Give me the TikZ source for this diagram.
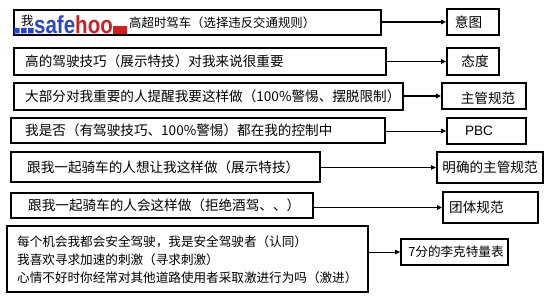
\documentclass[tikz,border=0pt]{standalone}
\usepackage{fontspec}
\setmainfont{Noto Sans CJK SC}
\newfontfamily\wmfont{Liberation Sans}
\usetikzlibrary{arrows.meta}
\definecolor{wmblue}{RGB}{40,70,200}
\definecolor{wmred}{RGB}{210,30,30}
\begin{document}
\begin{tikzpicture}[x=1pt,y=-1pt,
  box/.style={draw,line width=1.8pt,inner sep=0pt},
  txt/.style={inner sep=0pt,font=\fontsize{13.6}{16}\selectfont},
  stxt/.style={inner sep=0pt,font=\fontsize{12.6}{18}\selectfont},
  conn/.style={line width=1.3pt,-{Triangle[length=5pt,width=4.5pt]}},
  thinconn/.style={line width=0.9pt,-{Triangle[length=5pt,width=4.5pt]}}]
\useasboundingbox[fill=white] (0,0) rectangle (553,302);
% left boxes
\node[box,minimum width=367pt,minimum height=25pt] (l1) at (197.5,22.5) {};
\node[box,minimum width=372pt,minimum height=27pt] (l2) at (200,61.5) {};
\node[box,minimum width=389pt,minimum height=27pt] (l3) at (208.5,96.5) {};
\node[box,minimum width=374pt,minimum height=25pt] (l4) at (198,130.5) {};
\node[box,minimum width=309pt,minimum height=30pt] (l5) at (165.5,167) {};
\node[box,minimum width=302pt,minimum height=25pt] (l6) at (162,205.5) {};
\node[box,minimum width=361pt,minimum height=66pt] (l7) at (187.5,259) {};
% right boxes
\node[box,minimum width=52pt,minimum height=26pt] (r1) at (473,22) {};
\node[box,minimum width=52pt,minimum height=27pt] (r2) at (473,61.5) {};
\node[box,minimum width=84pt,minimum height=26pt] (r3) at (484,96) {};
\node[box,minimum width=79pt,minimum height=26pt] (r4) at (486.5,131) {};
\node[box,minimum width=106pt,minimum height=31pt] (r5) at (490,167.5) {};
\node[box,minimum width=95pt,minimum height=31pt] (r6) at (490.5,207.5) {};
\node[box,minimum width=107pt,minimum height=26pt] (r7) at (454.5,252) {};
% left texts
\node[txt,anchor=west,font=\fontsize{12.4}{15}\selectfont] (t1a) at (21,21) {我};
\node[txt,anchor=west,font=\fontsize{12.4}{15}\selectfont] (t1) at (129,22.5) {高超时驾车（选择违反交通规则）};
\node[txt,anchor=west] (t2) at (25,61.5) {高的驾驶技巧（展示特技）对我来说很重要};
\node[txt,anchor=west] (t3) at (25,96.5) {大部分对我重要的人提醒我要这样做（100\%警惕、摆脱限制）};
\node[txt,anchor=west] (t4) at (25,130.5) {我是否（有驾驶技巧、100\%警惕）都在我的控制中};
\node[txt,anchor=west] (t5) at (27,167) {跟我一起骑车的人想让我这样做（展示特技）};
\node[txt,anchor=west] (t6) at (28,205.5) {跟我一起骑车的人会这样做（拒绝酒驾、、）};
\node[stxt,anchor=west,align=left] (t7) at (17,260) {每个机会我都会安全驾驶，我是安全驾驶者（认同）\\我喜欢寻求加速的刺激（寻求刺激）\\心情不好时你经常对其他道路使用者采取激进行为吗（激进）};
% right texts
\node[txt] (s1) at (468.5,22) {意图};
\node[txt] (s2) at (475,61.5) {态度};
\node[txt] (s3) at (488,98.5) {主管规范};
\node[txt,font=\wmfont\fontsize{13.6}{16}\selectfont] (s4) at (479,131) {PBC};
\node[txt] (s5) at (490,167.5) {明确的主管规范};
\node[txt,anchor=west] (s6) at (449,207) {团体规范};
\node[stxt] (s7) at (456,252) {7分的李克特量表};
% watermark
\fill[wmblue] (14,28) rectangle (19.5,33.5) (21,28) rectangle (26.5,33.5) (28,28) rectangle (33.5,33.5);
\node[inner sep=0pt,anchor=base west,font=\wmfont\bfseries\fontsize{20.5}{20}\selectfont] (wm) at (34,34)
  {\scalebox{1}[1.2]{\textcolor{wmblue}{safe}\textcolor{wmred}{hoo}}};
\fill[wmred] (wm.base east) ++(0.5,0) rectangle ++(14,-8);
% connectors
\draw[conn] (l1.east |- r1.west) -- (r1.west);
\draw[conn] (l2.east |- r2.west) -- (r2.west);
\draw[conn] (l3.east |- r3.west) -- (r3.west);
\draw[thinconn] (l4.east |- r4.west) -- (r4.west);
\draw[thinconn] (l5.east |- r5.west) -- (r5.west);
\draw[conn] (l6.east |- r6.west) -- (r6.west);
\draw[thinconn] (l7.east |- r7.west) -- (r7.west);
\end{tikzpicture}
\end{document}
